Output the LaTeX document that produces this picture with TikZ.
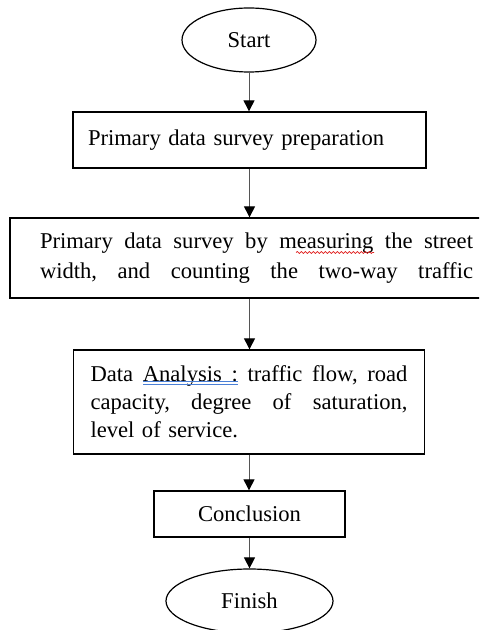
\documentclass[tikz,border=0pt]{standalone}
\usepackage{fontspec}
\setmainfont{Liberation Serif}
\usetikzlibrary{shapes.geometric,arrows.meta,decorations.pathmorphing}
\definecolor{flowc}{HTML}{555555}
\definecolor{spellc}{HTML}{E0201F}
\definecolor{gramc}{HTML}{4A7FD6}
\newcommand{\jline}[2]{\makebox[#1][l]{#2}}
\tikzset{
  term/.style={ellipse,draw=black,line width=0.6pt,inner sep=0pt,minimum height=32pt},
  proc/.style={rectangle,draw=black,line width=0.65pt,inner sep=0pt},
  flow/.style={flowc,line width=0.5pt,-{Triangle[length=5.5pt,width=5.5pt,black]}},
  spell/.style={spellc,line width=0.35pt,decorate,decoration={snake,amplitude=0.5pt,segment length=2pt}},
  gram/.style={gramc,line width=0.3pt},
  txt/.style={font=\fontsize{11.3pt}{14pt}\selectfont},
}

\begin{document}
\begin{tikzpicture}[x=0.5pt,y=-0.5pt,txt]
  \clip (0,0) rectangle (479,630);
  \node[term,minimum width=67pt] (start) at (249,40) {Start};
  \node[proc,text width=161.5pt,align=left,inner xsep=7.5pt,minimum height=28pt]
    (prep) at (249.5,140) {Primary data survey preparation};
  \node[proc,text width=216.5pt,align=left,inner xsep=15pt,minimum height=40pt,
    font=\fontsize{11.3pt}{15pt}\selectfont] (survey) at (256.5,258)
    {\jline{216.5pt}{Primary\hfill data\hfill survey\hfill by\hfill measuring\hfill the\hfill street}\\
     \jline{216.5pt}{width,\hfill and\hfill counting\hfill the\hfill two-way\hfill traffic}};
  \node[proc,text width=158.5pt,align=left,inner xsep=8.5pt,minimum height=52pt]
    (analysis) at (249,402)
    {\jline{158.5pt}{Data\hfill Analysis\hfill :\hfill traffic\hfill flow,\hfill road}\\
     \jline{158.5pt}{capacity,\hfill degree\hfill of\hfill saturation,}\\
     level of service.};
  \node[proc,minimum width=95.5pt,minimum height=23pt] (concl) at (249.5,514) {Conclusion};
  \node[term,minimum width=83.5pt] (finish) at (249.5,601) {Finish};
  % connectors
  \draw[flow] (start.south) -- (start.south |- prep.north);
  \draw[flow] (prep.south) -- (prep.south |- survey.north);
  \draw[flow] (prep.south |- survey.south) -- (prep.south |- analysis.north);
  \draw[flow] (analysis.south) -- (analysis.south |- concl.north);
  \draw[flow] (concl.south) -- (concl.south |- finish.north);
  % proofing marks
  \draw[spell] (296,252.5) -- (374,252.5);
  \draw[gram] (143,381.5) -- (238,381.5) (143,384) -- (238,384);
\end{tikzpicture}
\end{document}
